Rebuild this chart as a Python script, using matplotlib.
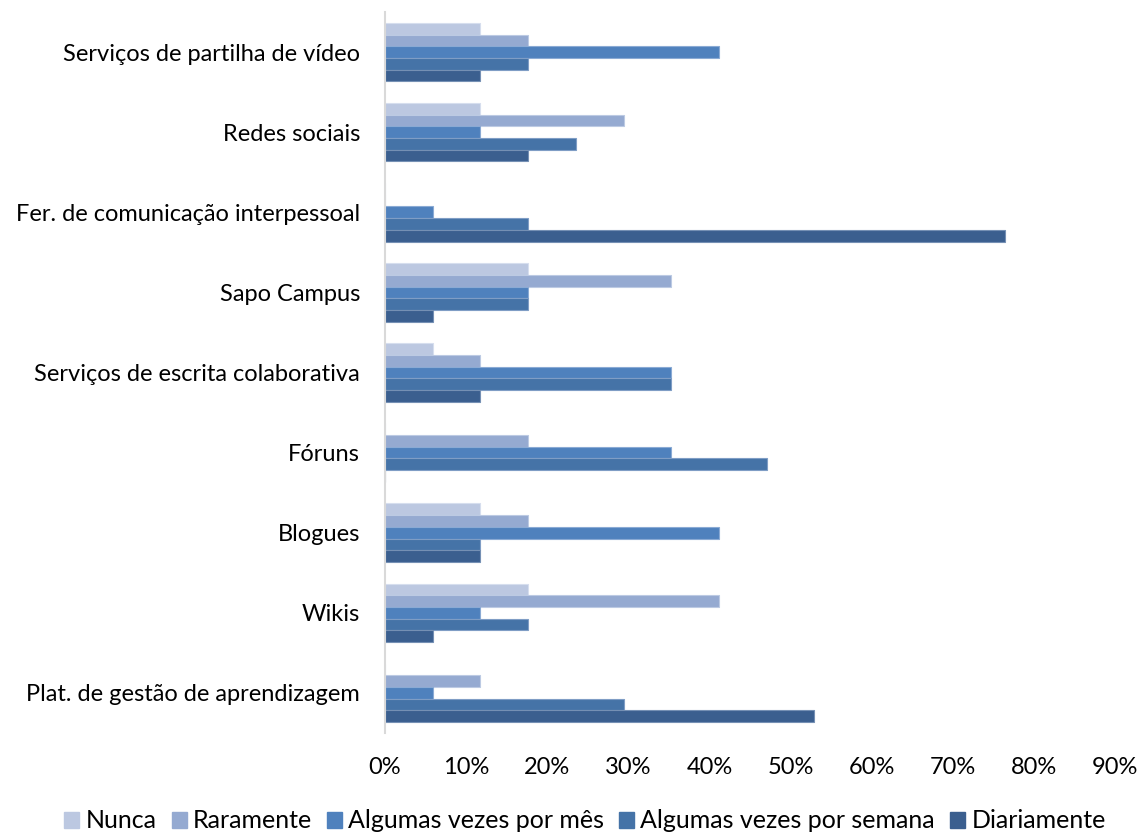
import matplotlib
matplotlib.use("Agg")
import matplotlib.pyplot as plt
import numpy as np
from matplotlib.patches import Patch
from matplotlib.ticker import FuncFormatter, MultipleLocator

plt.rcParams['font.family'] = ['Lato', 'DejaVu Sans']

categories = [
    "Serviços de partilha de vídeo",
    "Redes sociais",
    "Fer. de comunicação interpessoal",
    "Sapo Campus",
    "Serviços de escrita colaborativa",
    "Fóruns",
    "Blogues",
    "Wikis",
    "Plat. de gestão de aprendizagem",
]
series_names = ["Nunca", "Raramente", "Algumas vezes por mês",
                "Algumas vezes por semana", "Diariamente"]

nunca = [11.76, 11.76, 0.0, 17.65, 5.88, 0.0, 11.76, 17.65, 0.0]
raramente = [17.65, 29.41, 0.0, 35.29, 11.76, 17.65, 17.65, 41.18, 11.76]
por_mes = [41.18, 11.76, 5.88, 17.65, 35.29, 35.29, 41.18, 11.76, 5.88]
por_semana = [17.65, 23.53, 17.65, 17.65, 35.29, 47.06, 11.76, 17.65, 29.41]
diariamente = [11.76, 17.65, 76.47, 5.88, 11.76, 0.0, 11.76, 5.88, 52.94]

colors = ["#BCC8E1", "#95AAD1", "#4F81BD", "#4573A7", "#3B5F8F"]
edges = ["#D6DEEE", "#BCCAE3", "#8AAAD4", "#7F9DC5", "#7590B4"]

fig = plt.figure(figsize=(11.4, 8.34), dpi=100)
ax = fig.add_axes([385 / 1140, 1 - 733 / 834, 730 / 1140, 721 / 834])

all_series = [nunca, raramente, por_mes, por_semana, diariamente]
n_cat = len(categories)
bar_h = 0.146
y_centers = np.arange(n_cat)[::-1]

for i, (vals, name) in enumerate(zip(all_series, series_names)):
    offs = (i - 2) * bar_h
    ax.barh(y_centers - offs, vals, height=bar_h, color=colors[i],
            edgecolor=edges[i], linewidth=0.8, label=name, zorder=2)

ax.set_xlim(0, 90)
ax.set_ylim(-0.5, n_cat - 0.5)
ax.xaxis.set_major_locator(MultipleLocator(10))
ax.xaxis.set_major_formatter(FuncFormatter(lambda v, p: f"{v:.0f}%"))
ax.set_yticks(y_centers)
ax.set_yticklabels(categories)

for s in ["top", "right", "bottom"]:
    ax.spines[s].set_visible(False)
ax.spines["left"].set_color("#D9D9D9")
ax.spines["left"].set_linewidth(1.5)
ax.tick_params(axis="both", length=0, labelsize=17, colors="#000000")
ax.tick_params(axis="x", pad=17)
ax.tick_params(axis="y", pad=18)

handles = [Patch(facecolor=c, edgecolor=c) for c in colors]
fig.legend(handles, series_names, loc="center", bbox_to_anchor=(585 / 1140, 1 - 821 / 834),
           ncol=5, frameon=False, fontsize=18, handlelength=0.6, handleheight=0.6,
           handletextpad=0.25, columnspacing=0.6)

fig.savefig("out.png", dpi=100)
